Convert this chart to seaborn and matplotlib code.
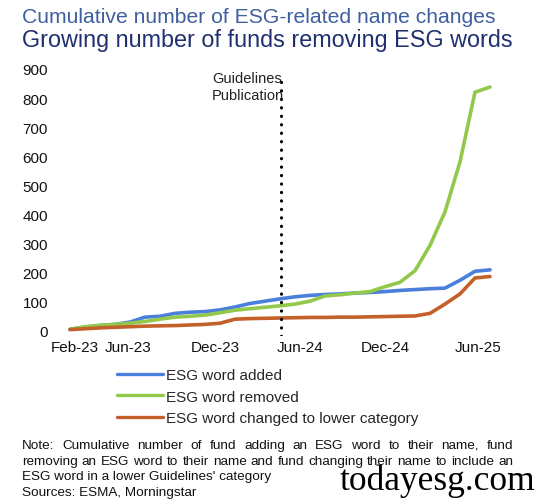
import matplotlib
matplotlib.use("Agg")
import matplotlib.pyplot as plt
import seaborn as sns
import pandas as pd

# monthly data, Feb-23 .. Jun-25
months = pd.date_range("2023-02-01", "2025-06-01", freq="MS").strftime("%b-%y").tolist()
added = [3, 10, 16, 20, 28, 45, 48, 58, 62, 64, 70, 80, 92, 100, 108, 115, 120, 123,
         125, 128, 130, 133, 137, 140, 143, 145, 172, 203, 208]
removed = [3, 12, 17, 20, 24, 30, 38, 45, 48, 52, 60, 69, 74, 79, 84, 90, 100, 118,
           122, 128, 133, 150, 165, 205, 292, 408, 580, 820, 838]
lower = [2, 5, 8, 10, 12, 14, 15, 16, 18, 20, 24, 38, 40, 41, 42, 43, 44, 44,
         45, 45, 46, 47, 48, 49, 58, 90, 125, 180, 185]

series_names = ["ESG word added", "ESG word removed", "ESG word changed to lower category"]
colors = ["#4a7fdc", "#92c94a", "#c4602a"]
tick_labels = ["Feb-23", "Jun-23", "Dec-23", "Jun-24", "Dec-24", "Jun-25"]
tick_pos = [0.33, 3.87, 9.67, 15.33, 21.0, 27.2]
guideline_x = 14.07

df = pd.DataFrame({"month": months, "idx": range(len(months)),
                   series_names[0]: added, series_names[1]: removed, series_names[2]: lower})
long = df.melt(id_vars=["month", "idx"], var_name="series", value_name="count")

sns.set_style("white")
plt.rcParams["font.family"] = ["Liberation Sans", "DejaVu Sans"]

fig = plt.figure(figsize=(5.38, 5.02), dpi=100)
ax = fig.add_axes([55 / 538, 1 - 337 / 502, 450 / 538, 267 / 502])

sns.lineplot(data=long, x="idx", y="count", hue="series", hue_order=series_names,
             palette=colors, linewidth=2.6, ax=ax)

ax.axvline(guideline_x, ymin=0, ymax=(883 + 20) / 920, color="black", lw=2.3,
           linestyle=(0, (0.05, 2.6)), dash_capstyle="round")
ax.text(9.47, 893, "Guidelines\nPublication", fontsize=10.5, color="#222222",
        va="top", ha="left", linespacing=1.3)

ax.set_xlim(-1, 29)
ax.set_ylim(-20, 900)
ax.set_yticks(range(0, 901, 100))
ax.set_xticks(tick_pos)
ax.set_xticklabels(tick_labels)
ax.tick_params(axis="both", length=0, labelsize=11, colors="#111111")
ax.tick_params(axis="y", pad=5)
ax.tick_params(axis="x", pad=3)
ax.set_xlabel("")
ax.set_ylabel("")
sns.despine(ax=ax, left=True, bottom=True)

handles, labels = ax.get_legend_handles_labels()
for h in handles:
    h.set_linewidth(2.4)
ax.legend(handles, labels, loc="upper left", bbox_to_anchor=(117 / 538, 1 - 369 / 502),
          bbox_transform=fig.transFigure, frameon=False, fontsize=11, handlelength=3.0,
          handletextpad=0.2, labelspacing=0.5, borderpad=0, borderaxespad=0)

fig.text(22 / 538, 1 - 23 / 502, "Cumulative number of ESG-related name changes",
         fontsize=15.2, color="#3f5f9f", ha="left", va="baseline")
fig.text(22 / 538, 1 - 47 / 502, "Growing number of funds removing ESG words",
         fontsize=16.8, color="#1f2f6f", ha="left", va="baseline")

# note, first two lines justified
note_lines = ["Note: Cumulative number of fund adding an ESG word to their name, fund",
              "removing an ESG word to their name and fund changing their name to include an",
              "ESG word in a lower Guidelines' category",
              "Sources: ESMA, Morningstar"]
note_y = [449, 465, 480, 496]
left_px, right_px = 22, 513
renderer = fig.canvas.get_renderer()
for i, (line, ypx) in enumerate(zip(note_lines, note_y)):
    y = 1 - ypx / 502
    if i < 2:
        words = line.split(" ")
        texts = [fig.text(0, y, w, fontsize=9.7, color="#111111", va="baseline") for w in words]
        widths = [t.get_window_extent(renderer).width for t in texts]
        gap = (right_px - left_px - sum(widths)) / (len(words) - 1)
        x = left_px
        for t, w in zip(texts, widths):
            t.set_x(x / 538)
            x += w + gap
    else:
        fig.text(left_px / 538, y, line, fontsize=9.7, color="#111111", va="baseline")

fig.text(535 / 538, 1 - 490 / 502, "todayesg.com", fontsize=25.5, family="Liberation Serif",
         color="black", ha="right", va="baseline")

fig.savefig("out.png", dpi=100)
